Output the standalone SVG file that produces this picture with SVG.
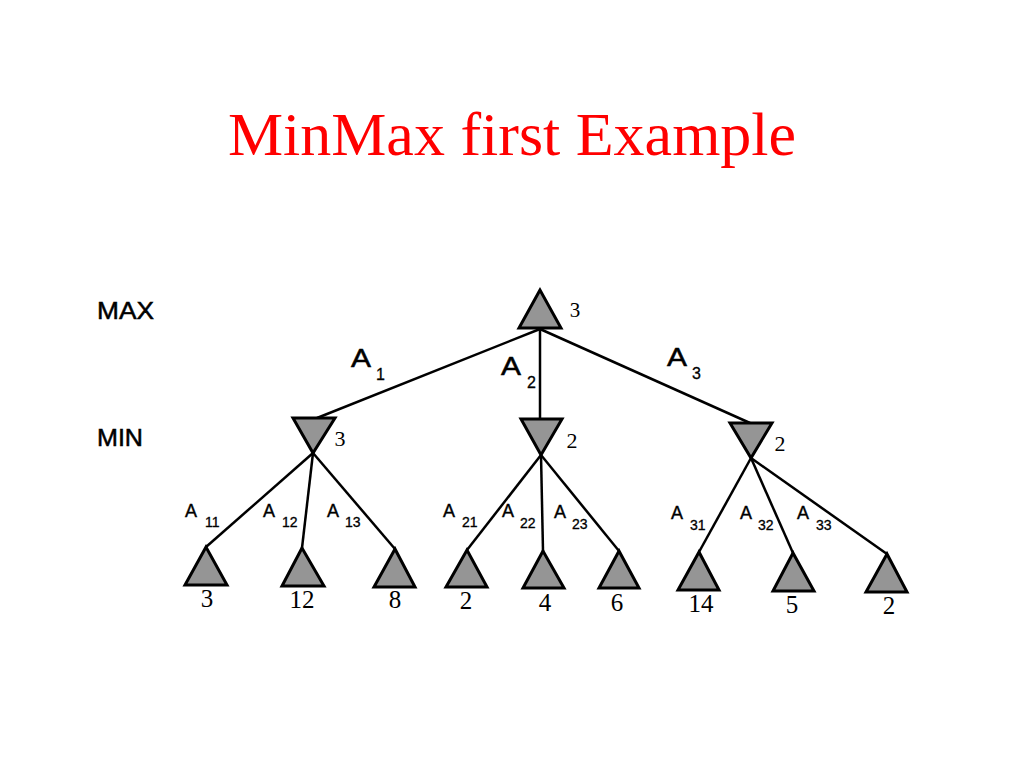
<svg xmlns="http://www.w3.org/2000/svg" width="1024" height="768" viewBox="0 0 1024 768">
<style>
.title{font-family:"Liberation Serif","Times New Roman",serif;font-size:62px;fill:#ff0000}
.lvl{font-family:"Liberation Sans",Arial,sans-serif;font-size:24px;fill:#000;stroke:#000;stroke-width:0.5}
.val{font-family:"Liberation Serif","Times New Roman",serif;fill:#000;text-anchor:middle}
.bigA{font-family:"Liberation Sans",Arial,sans-serif;font-size:25px;fill:#000;stroke:#000;stroke-width:0.5}
.bigS{font-family:"Liberation Sans",Arial,sans-serif;font-size:16px;fill:#000;stroke:#000;stroke-width:0.3}
.smA{font-family:"Liberation Sans",Arial,sans-serif;font-size:18px;fill:#000;stroke:#000;stroke-width:0.4}
.smS{font-family:"Liberation Sans",Arial,sans-serif;font-size:14px;fill:#000;stroke:#000;stroke-width:0.3}
.tri{fill:#959595;stroke:#000;stroke-width:3;stroke-linejoin:miter}
.edge{stroke:#000;stroke-width:2.5;fill:none}
</style>
<rect width="1024" height="768" fill="#fff"/>
<text class="title" x="512" y="155" text-anchor="middle">MinMax first Example</text>
<text class="lvl" x="97" y="319" textLength="57" lengthAdjust="spacingAndGlyphs">MAX</text>
<text class="lvl" x="97" y="446" textLength="46" lengthAdjust="spacingAndGlyphs">MIN</text>
<g id="connectors">
<line class="edge" x1="540" y1="329" x2="317" y2="418"/>
<line class="edge" x1="540" y1="329" x2="540" y2="419"/>
<line class="edge" x1="540" y1="329" x2="750" y2="423"/>
<line class="edge" x1="313" y1="453" x2="206" y2="547"/>
<line class="edge" x1="313" y1="453" x2="302" y2="548"/>
<line class="edge" x1="313" y1="453" x2="395" y2="549"/>
<line class="edge" x1="541" y1="455" x2="467" y2="550"/>
<line class="edge" x1="541" y1="455" x2="543" y2="551"/>
<line class="edge" x1="541" y1="455" x2="619" y2="551"/>
<line class="edge" x1="751" y1="458" x2="699" y2="552"/>
<line class="edge" x1="751" y1="458" x2="793" y2="553"/>
<line class="edge" x1="751" y1="458" x2="887" y2="554"/>
<text class="bigA" x="351" y="367" textLength="20" lengthAdjust="spacingAndGlyphs">A</text><text class="bigS" x="376" y="380">1</text>
<text class="bigA" x="501" y="375" textLength="20" lengthAdjust="spacingAndGlyphs">A</text><text class="bigS" x="527" y="388">2</text>
<text class="bigA" x="667" y="366" textLength="20" lengthAdjust="spacingAndGlyphs">A</text><text class="bigS" x="692" y="379">3</text>
<text class="smA" x="185" y="517">A</text><text class="smS" x="205" y="527">11</text>
<text class="smA" x="263" y="517">A</text><text class="smS" x="282" y="527">12</text>
<text class="smA" x="327" y="517">A</text><text class="smS" x="345" y="527">13</text>
<text class="smA" x="443" y="517">A</text><text class="smS" x="462" y="527">21</text>
<text class="smA" x="502" y="517">A</text><text class="smS" x="520" y="528">22</text>
<text class="smA" x="554" y="518">A</text><text class="smS" x="572" y="529">23</text>
<text class="smA" x="671" y="519">A</text><text class="smS" x="690" y="530">31</text>
<text class="smA" x="740" y="519">A</text><text class="smS" x="758" y="530">32</text>
<text class="smA" x="797" y="519">A</text><text class="smS" x="816" y="530">33</text>
</g>
<g id="max-root">
<polygon class="tri" points="540,290 519,328 561,328"/>
<text class="val" x="575" y="317" font-size="21">3</text>
</g>
<g id="min-1">
<polygon class="tri" points="293,418 335,418 313,453"/>
<text class="val" x="340" y="446" font-size="22">3</text>
</g>
<g id="min-2">
<polygon class="tri" points="521,419 562,419 541,455"/>
<text class="val" x="572" y="448" font-size="22">2</text>
</g>
<g id="min-3">
<polygon class="tri" points="730,423 772,423 751,458"/>
<text class="val" x="780" y="451" font-size="22">2</text>
</g>
<g id="leaf-11"><polygon class="tri" points="206,547 185,585 227,585"/><text class="val" x="207" y="607" font-size="25">3</text></g>
<g id="leaf-12"><polygon class="tri" points="302,548 282,586 324,586"/><text class="val" x="302" y="608" font-size="25">12</text></g>
<g id="leaf-13"><polygon class="tri" points="395,549 374,587 415,587"/><text class="val" x="395" y="608" font-size="25">8</text></g>
<g id="leaf-21"><polygon class="tri" points="467,550 446,587 487,587"/><text class="val" x="466" y="609" font-size="25">2</text></g>
<g id="leaf-22"><polygon class="tri" points="543,551 523,588 564,588"/><text class="val" x="545" y="611" font-size="25">4</text></g>
<g id="leaf-23"><polygon class="tri" points="619,551 599,588 639,588"/><text class="val" x="617" y="611" font-size="25">6</text></g>
<g id="leaf-31"><polygon class="tri" points="699,552 678,590 719,590"/><text class="val" x="701" y="612" font-size="25">14</text></g>
<g id="leaf-32"><polygon class="tri" points="793,553 773,591 814,591"/><text class="val" x="792" y="613" font-size="25">5</text></g>
<g id="leaf-33"><polygon class="tri" points="887,554 866,592 907,592"/><text class="val" x="889" y="614" font-size="25">2</text></g>
</svg>
